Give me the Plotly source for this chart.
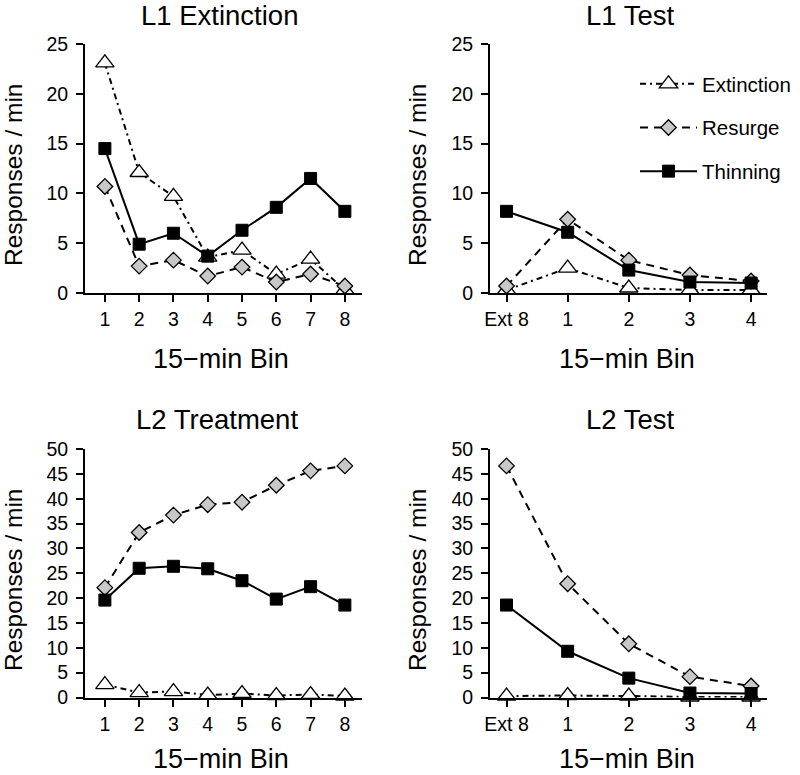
import plotly.graph_objects as go

# ---------------- data ----------------
bins_ext = [1, 2, 3, 4, 5, 6, 7, 8]
bins_test = [0, 1, 2, 3, 4]
test_ticktext = ["Ext 8", "1", "2", "3", "4"]

# L1 Extinction
l1ext_extinction = [23.1, 12.1, 9.7, 3.6, 4.3, 1.9, 3.4, 0.3]
l1ext_resurge = [10.7, 2.7, 3.3, 1.7, 2.6, 1.1, 1.9, 0.7]
l1ext_thinning = [14.5, 4.9, 6.0, 3.7, 6.3, 8.6, 11.5, 8.2]

# L1 Test
l1test_extinction = [0.3, 2.5, 0.5, 0.3, 0.3]
l1test_resurge = [0.7, 7.4, 3.3, 1.8, 1.2]
l1test_thinning = [8.2, 6.1, 2.3, 1.1, 1.0]

# L2 Treatment
l2tr_extinction = [2.6, 1.0, 1.2, 0.5, 0.8, 0.4, 0.6, 0.3]
l2tr_resurge = [22.1, 33.2, 36.7, 38.8, 39.3, 42.7, 45.6, 46.6]
l2tr_thinning = [19.6, 26.0, 26.4, 25.9, 23.5, 19.8, 22.3, 18.6]

# L2 Test
l2test_extinction = [0.3, 0.4, 0.3, 0.1, 0.1]
l2test_resurge = [46.6, 22.9, 10.8, 4.2, 2.3]
l2test_thinning = [18.6, 9.3, 3.9, 0.9, 0.8]

series_names = ["Extinction", "Resurge", "Thinning"]

# ---------------- styles ----------------
FONT = "Liberation Sans, Arial, Helvetica, sans-serif"
styles = {
    "Extinction": dict(line=dict(color="black", width=2, dash="6px,4px,2px,4px"),
                       marker=dict(symbol="triangle-up", size=16, color="white",
                                   line=dict(color="black", width=1.3))),
    "Resurge": dict(line=dict(color="black", width=2, dash="8px,6px"),
                    marker=dict(symbol="diamond", size=12, color="#c8c8c8",
                                line=dict(color="black", width=1.3))),
    "Thinning": dict(line=dict(color="black", width=2, dash="solid"),
                     marker=dict(symbol="square", size=12, color="black",
                                 line=dict(color="black", width=1))),
}

panels = [
    ("x", "y", bins_ext, [l1ext_extinction, l1ext_resurge, l1ext_thinning], True),
    ("x2", "y2", bins_test, [l1test_extinction, l1test_resurge, l1test_thinning], False),
    ("x3", "y3", bins_ext, [l2tr_extinction, l2tr_resurge, l2tr_thinning], False),
    ("x4", "y4", bins_test, [l2test_extinction, l2test_resurge, l2test_thinning], False),
]

fig = go.Figure()
for xa, ya, xs, sers, show in panels:
    for name, vals in zip(series_names, sers):
        st = styles[name]
        fig.add_trace(go.Scatter(
            x=xs, y=vals, xaxis=xa, yaxis=ya, name=name,
            mode="lines+markers", line=st["line"], marker=st["marker"],
            showlegend=show, legendgroup=name, cliponaxis=False,
            hoverinfo="skip"))

W, H = 800, 775

def px_x(p):
    return p / W

def px_y(p):
    return 1 - p / H

left_dom = [px_x(85), px_x(362)]
right_dom = [px_x(490), px_x(767)]
top_dom = [px_y(293), px_y(44)]
bot_dom = [px_y(697.5), px_y(449)]

TICK = 19.5
axis_common = dict(showline=True, linecolor="black", linewidth=2, ticks="outside",
                   ticklen=7, tickwidth=2, tickcolor="black", showgrid=False,
                   zeroline=False, tickfont=dict(family=FONT, size=TICK, color="black"),
                   fixedrange=True, automargin=False)

fig.update_layout(
    width=W, height=H, margin=dict(l=0, r=0, t=0, b=0, autoexpand=False),
    paper_bgcolor="white", plot_bgcolor="white",
    font=dict(family=FONT, color="black"),
    xaxis=dict(domain=left_dom, anchor="y", range=[0.42, 8.5], tickvals=bins_ext,
               ticklabelstandoff=1, **axis_common),
    yaxis=dict(domain=top_dom, anchor="x", range=[0, 25], tickvals=[0, 5, 10, 15, 20, 25],
               ticklabelstandoff=4, **axis_common),
    xaxis2=dict(domain=right_dom, anchor="y2", range=[-0.27, 4.26], tickvals=bins_test,
                ticktext=test_ticktext, ticklabelstandoff=1, **axis_common),
    yaxis2=dict(domain=top_dom, anchor="x2", range=[0, 25], tickvals=[0, 5, 10, 15, 20, 25],
                ticklabelstandoff=4, **axis_common),
    xaxis3=dict(domain=left_dom, anchor="y3", range=[0.42, 8.5], tickvals=bins_ext,
                ticklabelstandoff=1, **axis_common),
    yaxis3=dict(domain=bot_dom, anchor="x3", range=[0, 50], tickvals=list(range(0, 51, 5)),
                ticklabelstandoff=4, **axis_common),
    xaxis4=dict(domain=right_dom, anchor="y4", range=[-0.27, 4.26], tickvals=bins_test,
                ticktext=test_ticktext, ticklabelstandoff=1, **axis_common),
    yaxis4=dict(domain=bot_dom, anchor="x4", range=[0, 50], tickvals=list(range(0, 51, 5)),
                ticklabelstandoff=4, **axis_common),
    legend=dict(x=px_x(635), y=px_y(64), xanchor="left", yanchor="top",
                font=dict(family=FONT, size=20.5, color="black"),
                bgcolor="rgba(0,0,0,0)", itemwidth=57, tracegroupgap=14,
                traceorder="grouped"),
    showlegend=True,
)

titles = [("L1 Extinction", 219, 15), ("L1 Test", 630, 15),
          ("L2 Treatment", 217, 419), ("L2 Test", 630, 419)]
xtitles = [(221, 359), (627, 359), (221, 759), (627, 759)]
ytitles = [(13, 175), (417, 175), (13, 580), (417, 580)]

ann = []
for t, x, y in titles:
    ann.append(dict(text=t, x=px_x(x), y=px_y(y), xref="paper", yref="paper",
                    xanchor="center", yanchor="middle", showarrow=False,
                    font=dict(family=FONT, size=27.5, color="black")))
for x, y in xtitles:
    ann.append(dict(text="15\u2212min Bin", x=px_x(x), y=px_y(y), xref="paper", yref="paper",
                    xanchor="center", yanchor="middle", showarrow=False,
                    font=dict(family=FONT, size=27, color="black")))
for x, y in ytitles:
    ann.append(dict(text="Responses / min", x=px_x(x), y=px_y(y), xref="paper", yref="paper",
                    xanchor="center", yanchor="middle", showarrow=False, textangle=-90,
                    font=dict(family=FONT, size=24.5, color="black")))
fig.update_layout(annotations=ann)

fig.write_html("out.html", config={"displayModeBar": False},
               post_script="document.body.style.margin='0';document.body.style.overflow='hidden';")
